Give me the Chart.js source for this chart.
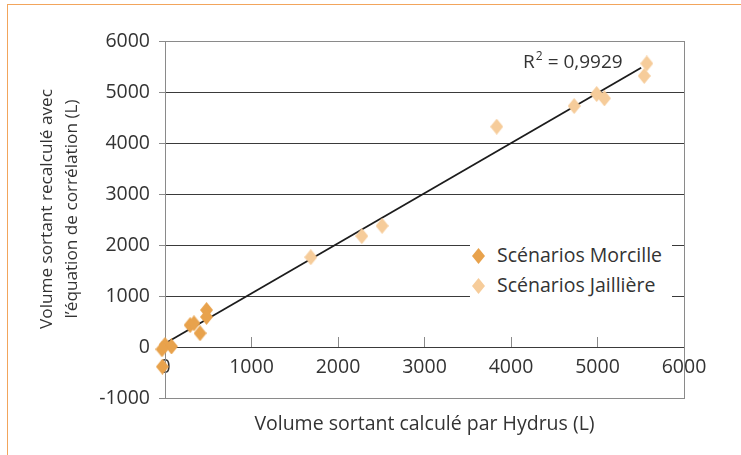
<!DOCTYPE html>
<html>
<head>
<meta charset="utf-8">
<script src="https://cdn.jsdelivr.net/npm/chart.js@4/dist/chart.umd.min.js"></script>
<style>
    html, body { margin: 0; padding: 0; background: #ffffff; }
    #wrap { position: relative; width: 741px; height: 455px; overflow: hidden; }
    #frame {
        position: absolute; left: 7px; top: 4px; width: 800px; height: 500px;
        border-left: 1.5px solid #f2a55c; border-top: 1.5px solid #f2a55c;
    }
    #legend {
        position: absolute; left: 470px; top: 239px; width: 202px; height: 64px;
        background: #ffffff; font-family: 'Open Sans', sans-serif; font-size: 19.5px; color: #333;
    }
    #legend .item { position: absolute; left: 0; height: 30px; line-height: 30px; white-space: nowrap; }
    #legend svg { position: absolute; left: 2px; top: 8px; }
    #legend span { position: absolute; left: 27px; }
</style>
</head>
<body>
<div id="wrap">
    <div id="frame"></div>
    <canvas id="chart" width="741" height="455"></canvas>
    <div id="legend"></div>
</div>
<script>
// Data
const morcilleLabel = 'Scénarios Morcille';
const morcilleX = [480, 480, 290, 335, 405, 0, 75, -35, -30];
const morcilleY = [725, 590, 430, 465, 270, 40, 10, -45, -385];

const jailliereLabel = 'Scénarios Jaillière';
const jailliereX = [1685, 2275, 2510, 3835, 4730, 4990, 5080, 5570, 5540];
const jailliereY = [1760, 2175, 2375, 4320, 4725, 4960, 4875, 5560, 5315];

// linear trend line (both series together)
const trendX = [-30, 5505];
const trendY = [40, 5476];
const r2Text = '0,9929';
const r2Anchor = [4140, 5470];

const xTicks = [0, 1000, 2000, 3000, 4000, 5000, 6000];
const yTicks = [-1000, 0, 1000, 2000, 3000, 4000, 5000, 6000];

const xTitle = 'Volume sortant calculé par Hydrus (L)';
const yTitle = ['Volume sortant recalculé avec', 'l\u2019équation de corrélation (L)'];

const colors = {
    morcille: '#e8a24c',
    jailliere: '#f6cc9a',
    text: '#333333',
    grid: '#3a3a3a',
    frame: '#8a8a8a',
    trend: '#1c1c1c'
};
const fontFamily = "'Open Sans', sans-serif";

function zip(xs, ys) {
    return xs.map((x, i) => ({ x: x, y: ys[i] }));
}

// tall diamond used as point style
function makeDiamond(color) {
    const c = document.createElement('canvas');
    c.width = 13;
    c.height = 16;
    const g = c.getContext('2d');
    g.fillStyle = color;
    g.beginPath();
    g.moveTo(6.5, 0);
    g.lineTo(13, 8);
    g.lineTo(6.5, 16);
    g.lineTo(0, 8);
    g.closePath();
    g.fill();
    return c;
}

// html legend
const legendEl = document.getElementById('legend');
[[morcilleLabel, colors.morcille], [jailliereLabel, colors.jailliere]].forEach((entry, i) => {
    const item = document.createElement('div');
    item.className = 'item';
    item.style.top = (i * 30 + 1) + 'px';
    item.innerHTML = '<svg width="13" height="16"><polygon points="6.5,0 13,8 6.5,16 0,8" fill="' +
        entry[1] + '"/></svg><span>' + entry[0] + '</span>';
    legendEl.appendChild(item);
});

// frame, axis titles and R² label
const decorPlugin = {
    id: 'decor',
    beforeDatasetsDraw(chart) {
        const a = chart.chartArea;
        const ctx = chart.ctx;
        ctx.save();
        ctx.strokeStyle = colors.frame;
        ctx.lineWidth = 1;
        ctx.strokeRect(a.left + 0.5, a.top + 0.5, a.right - a.left, a.bottom - a.top);
        ctx.restore();
    },
    afterDraw(chart) {
        const a = chart.chartArea;
        const ctx = chart.ctx;
        const xs = chart.scales.x;
        const ys = chart.scales.y;
        ctx.save();
        ctx.fillStyle = colors.text;
        ctx.font = '19.5px ' + fontFamily;
        ctx.textAlign = 'center';
        ctx.textBaseline = 'middle';
        ctx.fillText(xTitle, (a.left + a.right) / 2, 424);

        ctx.font = '17.2px ' + fontFamily;
        ctx.translate(0, 209);
        ctx.rotate(-Math.PI / 2);
        ctx.fillText(yTitle[0], 0, 47);
        ctx.fillText(yTitle[1], 0, 72);
        ctx.restore();

        ctx.save();
        ctx.fillStyle = colors.text;
        ctx.textAlign = 'left';
        ctx.textBaseline = 'alphabetic';
        let px = xs.getPixelForValue(r2Anchor[0]);
        const py = ys.getPixelForValue(r2Anchor[1]);
        ctx.font = '19px ' + fontFamily;
        ctx.fillText('R', px, py);
        px += ctx.measureText('R').width + 1;
        ctx.font = '12px ' + fontFamily;
        ctx.fillText('2', px, py - 8);
        px += ctx.measureText('2').width;
        ctx.font = '19px ' + fontFamily;
        ctx.fillText(' = ' + r2Text, px, py);
        ctx.restore();
    }
};

const ctx = document.getElementById('chart').getContext('2d');
new Chart(ctx, {
    type: 'scatter',
    data: {
        datasets: [
            {
                label: jailliereLabel,
                data: zip(jailliereX, jailliereY),
                pointStyle: makeDiamond(colors.jailliere),
                backgroundColor: colors.jailliere,
                order: 1,
                clip: false
            },
            {
                label: morcilleLabel,
                data: zip(morcilleX, morcilleY),
                pointStyle: makeDiamond(colors.morcille),
                backgroundColor: colors.morcille,
                order: 2,
                clip: false
            },
            {
                type: 'line',
                label: 'trend',
                data: zip(trendX, trendY),
                borderColor: colors.trend,
                borderWidth: 1.8,
                pointRadius: 0,
                fill: false,
                order: 3
            }
        ]
    },
    options: {
        responsive: false,
        animation: false,
        layout: { padding: { left: 0, top: 41, right: 57, bottom: 57 } },
        plugins: {
            legend: { display: false },
            tooltip: { enabled: false }
        },
        scales: {
            x: {
                type: 'linear',
                position: { y: 0 },
                min: 0,
                max: 6000,
                afterBuildTicks: (scale) => { scale.ticks = xTicks.map(v => ({ value: v })); },
                ticks: {
                    color: colors.text,
                    font: { family: fontFamily, size: 19.5 },
                    padding: 19,
                    maxRotation: 0,
                    callback: (v) => String(v)
                },
                grid: {
                    drawOnChartArea: false,
                    drawTicks: true,
                    tickLength: -10,
                    tickColor: colors.frame
                },
                border: { display: false }
            },
            y: {
                type: 'linear',
                position: 'left',
                min: -1000,
                max: 6000,
                afterFit: (scale) => { scale.width = 165; },
                afterBuildTicks: (scale) => { scale.ticks = yTicks.map(v => ({ value: v })); },
                ticks: {
                    color: colors.text,
                    font: { family: fontFamily, size: 19.5 },
                    padding: 9,
                    callback: (v) => String(v)
                },
                grid: {
                    color: colors.grid,
                    lineWidth: 1,
                    drawTicks: true,
                    tickLength: 6,
                    tickColor: colors.frame
                },
                border: { display: true, color: colors.frame }
            }
        }
    },
    plugins: [decorPlugin]
});
</script>
</body>
</html>
